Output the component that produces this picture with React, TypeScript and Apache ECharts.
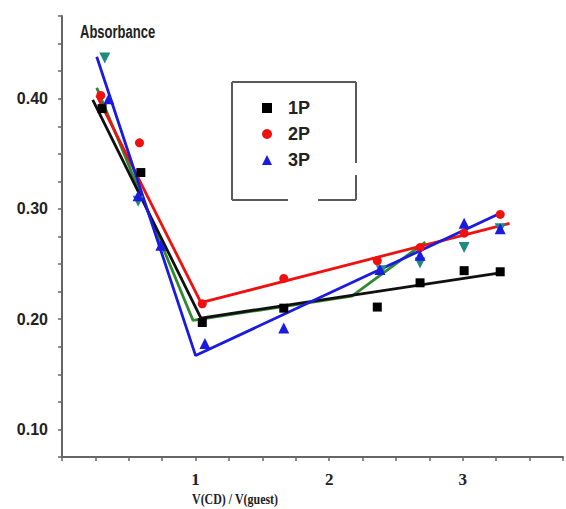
import React, { useEffect, useRef } from "react";
import * as echarts from "echarts";

// measured data
const p1X = [0.3, 0.59, 1.05, 1.66, 2.36, 2.68, 3.01, 3.28];
const p1Y = [0.391, 0.333, 0.197, 0.21, 0.211, 0.233, 0.244, 0.243];
const p2X = [0.29, 0.58, 1.05, 1.66, 2.36, 2.68, 3.01, 3.28];
const p2Y = [0.403, 0.36, 0.214, 0.237, 0.253, 0.265, 0.278, 0.295];
const p3X = [0.35, 0.57, 0.74, 1.07, 1.66, 2.38, 2.68, 3.01, 3.28];
const p3Y = [0.4, 0.312, 0.267, 0.178, 0.192, 0.245, 0.258, 0.287, 0.282];
const p4X = [0.32, 0.57, 2.39, 2.68, 3.01, 3.28];
const p4Y = [0.437, 0.307, 0.244, 0.251, 0.265, 0.282];

const fit1X = [0.23, 1.04, 3.28];
const fit1Y = [0.399, 0.201, 0.242];
const fit2X = [0.26, 1.04, 3.35];
const fit2Y = [0.403, 0.215, 0.287];
const fit3X = [0.26, 1.0, 3.28];
const fit3Y = [0.438, 0.167, 0.296];
const fit4X = [0.26, 0.98, 2.17, 2.72];
const fit4Y = [0.41, 0.199, 0.221, 0.27];

const legendNames = ["1P", "2P", "3P"];
const xTickLabels = [1, 2, 3];
const yTickLabels = [0.1, 0.2, 0.3, 0.4];
const yTitle = "Absorbance";
const xTitle = "V(CD) / V(guest)";

const zip = (xs: number[], ys: number[]) => xs.map((x, i) => [x, ys[i]]);

const SANS = "'Liberation Sans', Arial, sans-serif";
const SERIF = "'Liberation Serif', 'DejaVu Serif', serif";

export default function App() {
  const ref = useRef<HTMLDivElement>(null);
  useEffect(() => {
    if (!ref.current) return;
    const chart = echarts.init(ref.current, undefined, { renderer: "svg" });
    const boxColor = "#5a5a5a";
    const lineSeg = (x1: number, y1: number, x2: number, y2: number) => ({
      type: "line",
      shape: { x1, y1, x2, y2 },
      style: { stroke: boxColor, lineWidth: 2 },
      z: 1,
    });
    const fitLine = (name: string, xs: number[], ys: number[], color: string, z: number) => ({
      name,
      type: "line",
      data: zip(xs, ys),
      showSymbol: false,
      symbol: "none",
      lineStyle: { color, width: 2.8 },
      z,
    });
    chart.setOption({
      animation: false,
      backgroundColor: "#ffffff",
      legend: {
        data: legendNames,
        orient: "vertical",
        left: 257,
        top: 93,
        itemWidth: 10,
        itemHeight: 10,
        itemGap: 6,
        textStyle: {
          fontFamily: SANS,
          fontWeight: "bold",
          fontSize: 18,
          color: "#222",
          lineHeight: 20,
          padding: [0, 0, 0, 11],
        },
      },
      grid: { left: 62, top: 16, right: -6, bottom: 52 },
      xAxis: {
        type: "value",
        min: 0,
        max: 3.75,
        interval: 0.25,
        splitLine: { show: false },
        axisLine: { lineStyle: { color: "#666", width: 2 } },
        axisTick: { show: true, length: 4, lineStyle: { color: "#666", width: 1.5 } },
        axisLabel: {
          margin: 14,
          fontFamily: SERIF,
          fontWeight: "bold",
          fontSize: 17,
          color: "#222",
          formatter: (v: number) => (xTickLabels.some((t) => Math.abs(t - v) < 1e-6) ? String(Math.round(v)) : ""),
        },
      },
      yAxis: {
        type: "value",
        min: 0.075,
        max: 0.475,
        interval: 0.025,
        splitLine: { show: false },
        axisLine: { show: true, lineStyle: { color: "#666", width: 2 } },
        axisTick: { show: true, length: 4, lineStyle: { color: "#666", width: 1.5 } },
        axisLabel: {
          margin: 14,
          fontFamily: SANS,
          fontWeight: "bold",
          fontSize: 16,
          color: "#222",
          formatter: (v: number) => (yTickLabels.some((t) => Math.abs(t - v) < 1e-6) ? v.toFixed(2) : ""),
        },
      },
      graphic: [
        lineSeg(232, 82, 356, 82),
        lineSeg(232, 82, 232, 200),
        lineSeg(232, 200, 288, 200),
        lineSeg(318, 200, 356, 200),
        lineSeg(356, 82, 356, 163),
        lineSeg(356, 175, 356, 200),
        {
          type: "text",
          x: 80,
          y: 22,
          scaleX: 0.93,
          scaleY: 1.35,
          style: {
            text: yTitle,
            font: "bold 14px 'Liberation Sans', Arial, sans-serif",
            fill: "#222",
            textVerticalAlign: "top",
          },
          z: 10,
        },
        {
          type: "text",
          x: 192,
          y: 492,
          scaleX: 0.92,
          scaleY: 1.1,
          style: {
            text: xTitle,
            font: "bold 13px 'Liberation Serif', serif",
            fill: "#222",
            textVerticalAlign: "top",
          },
          z: 10,
        },
      ],
      series: [
        fitLine("fit4", fit4X, fit4Y, "#2f8a2f", 2),
        fitLine("fit1", fit1X, fit1Y, "#101010", 3),
        fitLine("fit2", fit2X, fit2Y, "#f01010", 4),
        fitLine("fit3", fit3X, fit3Y, "#1a1ae0", 5),
        {
          name: "4P",
          type: "scatter",
          data: zip(p4X, p4Y),
          symbol: "triangle",
          symbolRotate: 180,
          symbolSize: 11,
          itemStyle: { color: "#1e8a80", opacity: 1 },
          z: 6,
        },
        {
          name: "1P",
          type: "scatter",
          data: zip(p1X, p1Y),
          symbol: "rect",
          symbolSize: 9,
          itemStyle: { color: "#000000", opacity: 1 },
          z: 7,
        },
        {
          name: "2P",
          type: "scatter",
          data: zip(p2X, p2Y),
          symbol: "circle",
          symbolSize: 9,
          itemStyle: { color: "#f01010", opacity: 1 },
          z: 8,
        },
        {
          name: "3P",
          type: "scatter",
          data: zip(p3X, p3Y),
          symbol: "triangle",
          symbolSize: 11,
          itemStyle: { color: "#1a1ae0", opacity: 1 },
          z: 9,
        },
      ],
    });
    return () => chart.dispose();
  }, []);
  return <div ref={ref} style={{ width: 566, height: 509, position: "absolute", left: 0, top: 0 }} />;
}
